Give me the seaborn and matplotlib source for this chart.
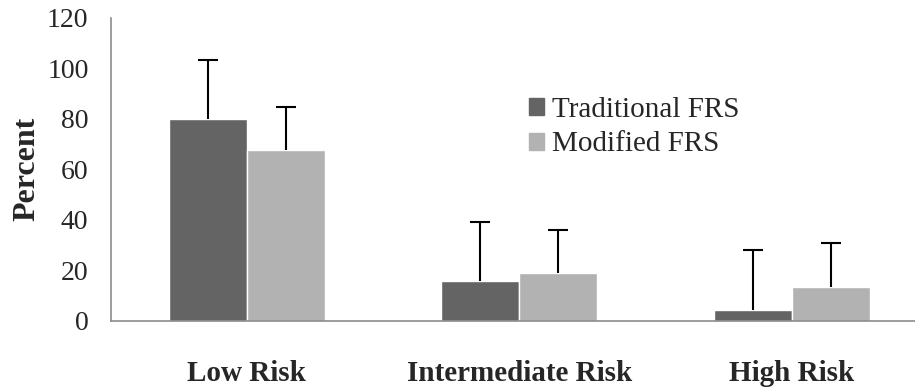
import numpy as np
import pandas as pd
import seaborn as sns
import matplotlib.pyplot as plt
from matplotlib.patches import Patch

sns.set_style('white')
plt.rcParams['font.family'] = ['Liberation Serif', 'DejaVu Serif']

# data
categories = ['Low Risk', 'Intermediate Risk', 'High Risk']
series = ['Traditional FRS', 'Modified FRS']
traditional = [79.8, 15.8, 4.3]
modified = [67.6, 18.8, 13.6]
traditional_err = [23.5, 23.5, 23.6]
modified_err = [17.2, 17.2, 17.2]
colors = ['#646464', '#b2b2b2']

df = pd.DataFrame({
    'risk': categories * 2,
    'group': [series[0]] * 3 + [series[1]] * 3,
    'value': traditional + modified,
    'err': traditional_err + modified_err,
})

fig = plt.figure(figsize=(9.15, 3.88), dpi=100)
# axes runs a little past the right edge, as in the original
ax = fig.add_axes([0.121, 0.173, 0.893, 0.781])

sns.barplot(data=df, x='risk', y='value', hue='group', palette=colors,
            width=0.573, errorbar=None, ax=ax, legend=False, saturation=1)

# upper-only error bars on top of each bar
for cont, grp in zip(ax.containers, series):
    sub = df[df['group'] == grp]
    xs = [p.get_x() + p.get_width() / 2 for p in cont.patches]
    eb = ax.errorbar(xs, sub['value'], yerr=[np.zeros(len(sub)), sub['err']],
                     fmt='none', ecolor='black', elinewidth=1.5, capsize=7, capthick=1.5)
    eb[1][0].set_visible(False)  # drop the cap sitting on the bar top

ax.set_ylim(0, 120)
ax.set_yticks(range(0, 121, 20))
ax.set_xlim(-0.5, 2.5)
ax.set_xlabel('')
ax.set_ylabel('Percent', fontsize=23, fontweight='bold', labelpad=4)
ax.tick_params(axis='y', labelsize=20, length=0, pad=16)
ax.tick_params(axis='x', labelsize=21, length=0, pad=28)
for lab in ax.get_xticklabels():
    lab.set_fontweight('bold')

sns.despine(ax=ax)
for s in ['left', 'bottom']:
    ax.spines[s].set_color('#8c8c8c')
    ax.spines[s].set_linewidth(1.2)

handles = [Patch(color=c, label=l) for c, l in zip(colors, series)]
ax.legend(handles=handles, frameon=False, fontsize=21, loc='upper left',
          bbox_to_anchor=(0.512, 0.74), handlelength=0.52, handleheight=0.52,
          handletextpad=0.25, labelspacing=0.3, borderaxespad=0, borderpad=0)

fig.savefig('out.png', dpi=100)
